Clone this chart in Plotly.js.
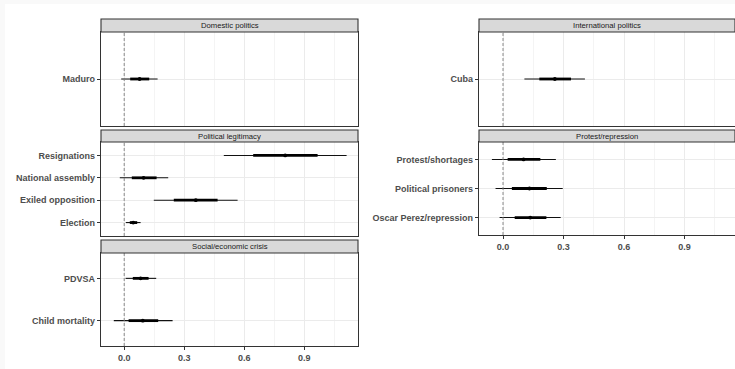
<!DOCTYPE html>
<html>
<head>
<meta charset="utf-8">
<script src="https://cdn.plot.ly/plotly-3.0.1.min.js"></script>
<style>
html,body{margin:0;padding:0;background:#fff;}
#chart{width:735px;height:369px;}
</style>
</head>
<body>
<div id="chart"></div>
<script>
// ---- Data ----
const domesticCats = ['Maduro'];
const domesticEst  = [0.077];
const domesticLo95 = [-0.015];
const domesticHi95 = [0.167];
const domesticLo80 = [0.030];
const domesticHi80 = [0.125];

const legitCats = ['Resignations', 'National assembly', 'Exiled opposition', 'Election'];
const legitEst  = [0.805, 0.097, 0.358, 0.045];
const legitLo95 = [0.498, -0.022, 0.148, 0.008];
const legitHi95 = [1.112, 0.220, 0.567, 0.082];
const legitLo80 = [0.645, 0.038, 0.248, 0.028];
const legitHi80 = [0.967, 0.162, 0.467, 0.065];

const socialCats = ['PDVSA', 'Child mortality'];
const socialEst  = [0.082, 0.093];
const socialLo95 = [0.007, -0.052];
const socialHi95 = [0.160, 0.242];
const socialLo80 = [0.043, 0.022];
const socialHi80 = [0.122, 0.170];

const intlCats = ['Cuba'];
const intlEst  = [0.257];
const intlLo95 = [0.106];
const intlHi95 = [0.406];
const intlLo80 = [0.180];
const intlHi80 = [0.337];

const protestCats = ['Protest/shortages', 'Political prisoners', 'Oscar Perez/repression'];
const protestEst  = [0.102, 0.131, 0.135];
const protestLo95 = [-0.055, -0.037, -0.017];
const protestHi95 = [0.262, 0.296, 0.286];
const protestLo80 = [0.023, 0.044, 0.058];
const protestHi80 = [0.185, 0.217, 0.215];

const panelTitles = ['Domestic politics', 'Political legitimacy', 'Social/economic crisis', 'International politics', 'Protest/repression'];
const xTickVals = [0, 0.3, 0.6, 0.9];
const xTickText = ['0.0', '0.3', '0.6', '0.9'];

// ---- Layout geometry (pixels) ----
const W = 735, H = 369;
const panels = [
  {title: panelTitles[0], cats: domesticCats, est: domesticEst, lo95: domesticLo95, hi95: domesticHi95, lo80: domesticLo80, hi80: domesticHi80,
   px: [101, 358], py: [32, 126], strip: [19, 32], range: [-0.116, 1.169], bottom: false},
  {title: panelTitles[1], cats: legitCats, est: legitEst, lo95: legitLo95, hi95: legitHi95, lo80: legitLo80, hi80: legitHi80,
   px: [101, 358], py: [142, 236], strip: [130, 142], range: [-0.116, 1.169], bottom: false},
  {title: panelTitles[2], cats: socialCats, est: socialEst, lo95: socialLo95, hi95: socialHi95, lo80: socialLo80, hi80: socialHi80,
   px: [101, 358], py: [253, 346], strip: [240, 253], range: [-0.116, 1.169], bottom: true},
  {title: panelTitles[3], cats: intlCats, est: intlEst, lo95: intlLo95, hi95: intlHi95, lo80: intlLo80, hi80: intlHi80,
   px: [479, 735], py: [32, 126], strip: [19, 32], range: [-0.119, 1.150], bottom: false},
  {title: panelTitles[4], cats: protestCats, est: protestEst, lo95: protestLo95, hi95: protestHi95, lo80: protestLo80, hi80: protestHi80,
   px: [479, 735], py: [142, 235], strip: [130, 142], range: [-0.119, 1.150], bottom: true}
];

const FONT = 'Liberation Sans, Arial, Helvetica, sans-serif';
const traces = [];
const layout = {
  width: W, height: H,
  margin: {l: 0, r: 0, t: 0, b: 0},
  paper_bgcolor: '#ffffff',
  plot_bgcolor: '#ffffff',
  showlegend: false,
  font: {family: FONT},
  shapes: [
    {type: 'rect', xref: 'paper', yref: 'paper', x0: 0, x1: 1, y0: 1 - 4 / H, y1: 1, fillcolor: '#f9f9f9', line: {width: 0}, layer: 'below'},
    {type: 'rect', xref: 'paper', yref: 'paper', x0: 0, x1: 5 / W, y0: 0, y1: 1, fillcolor: '#f9f9f9', line: {width: 0}, layer: 'below'}
  ],
  annotations: []
};

function segs(cats, lo, hi) {
  const xs = [], ys = [];
  for (let i = 0; i < cats.length; i++) {
    xs.push(lo[i], hi[i], null);
    ys.push(cats[i], cats[i], null);
  }
  return {xs, ys};
}

panels.forEach((p, k) => {
  const n = k + 1;
  const xa = n === 1 ? 'x' : 'x' + n;
  const ya = n === 1 ? 'y' : 'y' + n;
  const xKey = n === 1 ? 'xaxis' : 'xaxis' + n;
  const yKey = n === 1 ? 'yaxis' : 'yaxis' + n;
  const order = p.cats.slice().reverse();

  layout[xKey] = {
    domain: [p.px[0] / W, p.px[1] / W],
    anchor: ya,
    range: p.range,
    tickmode: 'array', tickvals: xTickVals, ticktext: xTickText,
    showticklabels: p.bottom,
    ticks: p.bottom ? 'outside' : '', ticklen: 3, tickwidth: 1, tickcolor: '#333333',
    tickfont: {family: FONT, size: 9, color: '#4d4d4d', weight: 'bold'},
    showgrid: true, gridcolor: '#ebebeb', gridwidth: 1,
    minor: {tickmode: 'array', tickvals: [0.15, 0.45, 0.75, 1.05], showgrid: true, gridcolor: '#f0f0f0', gridwidth: 0.7, ticks: ''},
    zeroline: false,
    showline: true, mirror: true, linecolor: '#333333', linewidth: 1.1,
    fixedrange: true
  };
  layout[yKey] = {
    domain: [1 - p.py[1] / H, 1 - p.py[0] / H],
    anchor: xa,
    type: 'category', categoryorder: 'array', categoryarray: order,
    range: [-0.6, p.cats.length - 0.4],
    ticks: 'outside', ticklen: 3, tickwidth: 1, tickcolor: '#333333',
    tickfont: {family: FONT, size: 9, color: '#4d4d4d', weight: 'bold'},
    showgrid: true, gridcolor: '#ebebeb', gridwidth: 1,
    zeroline: false,
    showline: true, mirror: true, linecolor: '#333333', linewidth: 1.1,
    fixedrange: true
  };

  // dashed reference line at zero
  layout.shapes.push({type: 'line', xref: xa, yref: ya + ' domain', x0: 0, x1: 0, y0: 0, y1: 1,
    line: {color: '#7f7f7f', width: 0.9, dash: '3px,2px'}, layer: 'above'});

  // strip
  layout.shapes.push({type: 'rect', xref: 'paper', yref: 'paper',
    x0: p.px[0] / W, x1: p.px[1] / W, y0: 1 - p.strip[1] / H, y1: 1 - p.strip[0] / H,
    fillcolor: '#d9d9d9', line: {color: '#333333', width: 1.1}});
  layout.annotations.push({xref: 'paper', yref: 'paper',
    x: (p.px[0] + p.px[1]) / 2 / W, y: 1 - (p.strip[0] + p.strip[1]) / 2 / H,
    text: p.title, showarrow: false, xanchor: 'center', yanchor: 'middle',
    font: {family: FONT, size: 7.7, color: '#1a1a1a'}});

  const s95 = segs(p.cats, p.lo95, p.hi95);
  traces.push({type: 'scatter', mode: 'lines', x: s95.xs, y: s95.ys, xaxis: xa, yaxis: ya,
    line: {color: '#111111', width: 1.1}, hoverinfo: 'skip', connectgaps: false});
  const s80 = segs(p.cats, p.lo80, p.hi80);
  traces.push({type: 'scatter', mode: 'lines', x: s80.xs, y: s80.ys, xaxis: xa, yaxis: ya,
    line: {color: '#000000', width: 2.8}, hoverinfo: 'skip', connectgaps: false});
  traces.push({type: 'scatter', mode: 'markers', x: p.est, y: p.cats, xaxis: xa, yaxis: ya,
    marker: {color: '#000000', size: 3.8, symbol: 'circle'}, hoverinfo: 'skip'});
});

Plotly.newPlot('chart', traces, layout, {displayModeBar: false, staticPlot: true});
</script>
</body>
</html>
